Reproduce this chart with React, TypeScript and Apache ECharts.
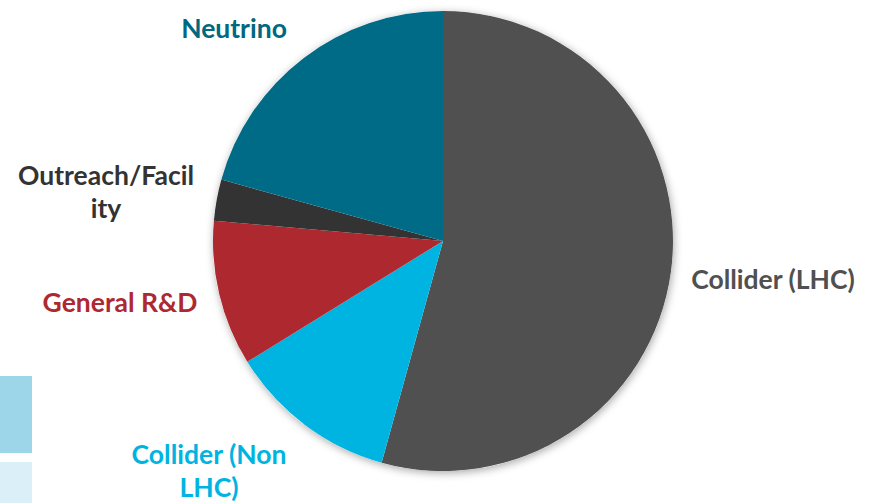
import React, { useEffect, useRef } from "react";
import * as echarts from "echarts";

const categories = ["Collider (LHC)", "Collider (Non\nLHC)", "General R&D", "Outreach/Facil\nity", "Neutrino"];
const values = [54.3, 11.9, 10.2, 2.9, 20.7];
const colors = ["#505050", "#00b4e1", "#ae2830", "#333333", "#006b86"];
const labelColors = ["#505050", "#00b4e1", "#ae2830", "#333333", "#00687f"];
const labelPos: [number, number][] = [
  [773, 279],
  [209, 470],
  [120, 302],
  [106, 191],
  [234, 28],
];

export default function App() {
  const ref = useRef<HTMLDivElement>(null);
  useEffect(() => {
    document.body.style.margin = "0";
    const chart = echarts.init(ref.current!, undefined, { renderer: "svg" });
    chart.setOption({
      animation: false,
      backgroundColor: "#ffffff",
      graphic: [
        { type: "rect", shape: { x: 0, y: 376, width: 32, height: 77 }, style: { fill: "#9dd5e9" } },
        { type: "rect", shape: { x: 0, y: 462, width: 32, height: 41 }, style: { fill: "#dbeff8" } },
      ],
      series: [
        {
          type: "pie",
          center: [443, 241],
          radius: 230,
          silent: true,
          z: 1,
          label: { show: false },
          labelLine: { show: false },
          itemStyle: {
            color: "#ffffff",
            shadowBlur: 8,
            shadowColor: "rgba(0,0,0,0.35)",
            shadowOffsetX: 1,
            shadowOffsetY: 2,
          },
          data: [{ value: 1, name: "" }],
        },
        {
          type: "pie",
          center: [443, 241],
          radius: 230,
          startAngle: 90,
          clockwise: true,
          z: 2,
          itemStyle: { borderWidth: 0 },
          label: {
            show: true,
            position: "outside",
            formatter: "{b}",
            fontFamily: "Lato",
            fontWeight: "bold",
            fontSize: 26.5,
            lineHeight: 33,
            align: "center",
            overflow: "none",
            width: 400,
          },
          labelLine: { show: false },
          labelLayout: (params: any) => {
            const p = labelPos[params.dataIndex];
            return { x: p[0], y: p[1], align: "center", verticalAlign: "middle" };
          },
          data: categories.map((name, i) => ({
            name,
            value: values[i],
            itemStyle: { color: colors[i] },
            label: { color: labelColors[i] },
          })),
        },
      ],
    });
    return () => chart.dispose();
  }, []);
  return <div ref={ref} style={{ width: 873, height: 503 }} />;
}
